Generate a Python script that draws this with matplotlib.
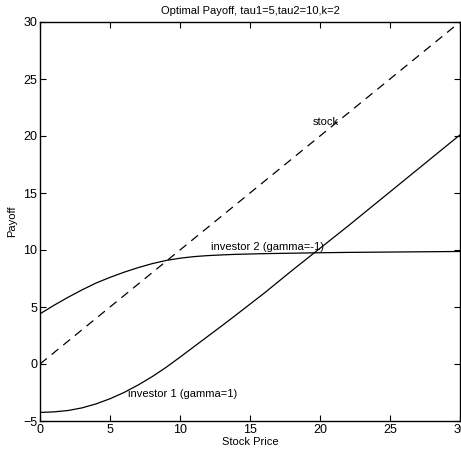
import numpy as np
import matplotlib
matplotlib.use("Agg")
import matplotlib.pyplot as plt

plt.rcParams['font.family'] = ['Liberation Sans', 'DejaVu Sans']

# stock price grid and payoffs
price1 = [0, 1, 2, 3, 4, 5, 6, 7, 8, 9, 10, 11, 12, 13, 14, 16, 18, 20, 22, 24, 26, 28, 30]
inv1 = [-4.25, -4.2, -4.08, -3.85, -3.5, -3.05, -2.5, -1.85, -1.12, -0.3, 0.6, 1.52, 2.44,
        3.36, 4.3, 6.2, 8.2, 10.15, 12.1, 14.1, 16.1, 18.1, 20.1]
inv2 = [4.4, 5.15, 5.85, 6.5, 7.1, 7.6, 8.05, 8.45, 8.8, 9.08, 9.28, 9.42, 9.51,
        9.57, 9.62, 9.68, 9.72, 9.76, 9.79, 9.81, 9.83, 9.85, 9.87]
stock_x = [0, 30]
stock_y = [0, 30]

fig = plt.figure(figsize=(4.61, 4.57), dpi=100)
ax = fig.add_axes([40/461, 1-421/457, 420/461, 399/457])

ax.plot(price1, inv1, color='black', lw=0.9)
ax.plot(price1, inv2, color='black', lw=0.9)
ax.plot(stock_x, stock_y, color='black', lw=0.9, dashes=(7, 5))

ax.text(19.5, 21.2, 'stock', fontsize=8, va='center', ha='left')
ax.text(12.2, 10.3, 'investor 2 (gamma=-1)', fontsize=8, va='center', ha='left')
ax.text(6.3, -2.6, 'investor 1 (gamma=1)', fontsize=8, va='center', ha='left')

ax.set_xlim(0, 30)
ax.set_ylim(-5, 30)
ax.set_xticks([0, 5, 10, 15, 20, 25, 30])
ax.set_yticks([-5, 0, 5, 10, 15, 20, 25, 30])
ax.tick_params(direction='in', top=True, right=True, length=4, labelsize=9, pad=2)
for s in ax.spines.values():
    s.set_linewidth(1)

ax.set_title('Optimal Payoff, tau1=5,tau2=10,k=2', fontsize=8, pad=6)
ax.set_xlabel('Stock Price', fontsize=8, labelpad=1)
ax.set_ylabel('Payoff', fontsize=8, labelpad=4)

fig.savefig('out.png', dpi=100)
